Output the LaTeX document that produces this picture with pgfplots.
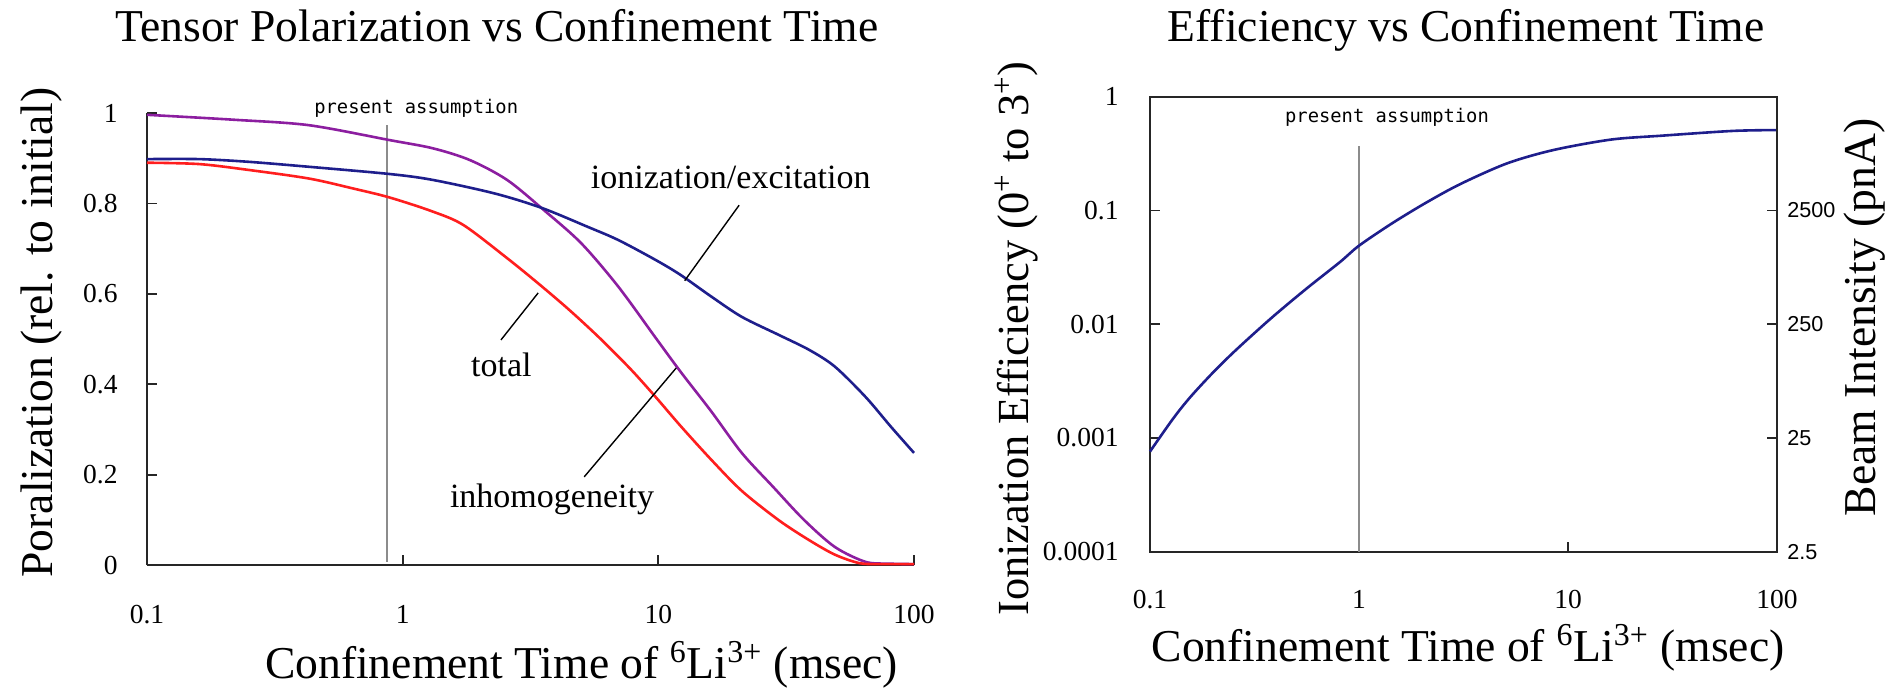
\documentclass[border=0pt]{standalone}
\usepackage{fontspec}
\setmainfont{Liberation Serif}
\newfontfamily\annofont{DejaVu Sans Mono}
\newfontfamily\numsans{Liberation Sans}
\usepackage{pgfplots}
\pgfplotsset{compat=1.18}

\definecolor{ionblue}{RGB}{30,30,140}
\definecolor{inhpurple}{RGB}{140,30,160}
\definecolor{totred}{RGB}{255,30,30}
\definecolor{refgray}{RGB}{140,140,140}

\newcommand{\labfont}{\fontsize{22.8}{26}\selectfont}
\newcommand{\tickfont}{\fontsize{13.75}{16}\selectfont}
\newcommand{\notefont}{\fontsize{17}{20}\selectfont}
\newcommand{\pafont}{\annofont\fontsize{9.4}{11}\selectfont}

\begin{document}
\begin{tikzpicture}
\useasboundingbox (0,0) rectangle (947.5pt,343.5pt);

% ---------------- tensor polarization ----------------
\begin{axis}[
  scale only axis, clip=false,
  at={(73.5pt,61pt)}, anchor=south west,
  width=383.5pt, height=226pt,
  xmode=log, xmin=0.1, xmax=100,
  ymin=0, ymax=1,
  axis lines=left,
  xminorticks=false, yminorticks=false,
  tick align=inside, major tick length=5pt,
  axis line style={-, black!85, line width=0.9pt},
  tick style={black!85, line width=0.9pt},
  xtick={0.1,1,10,100}, xticklabels={0.1,1,10,100},
  ytick={0,0.2,0.4,0.6,0.8,1}, yticklabels={0,0.2,0.4,0.6,0.8,1},
  xticklabel style={font=\tickfont, anchor=base, inner sep=0pt, yshift=-29pt},
  yticklabel style={font=\tickfont, anchor=east, inner sep=0pt, xshift=-14.5pt},
]
\addplot[refgray, line width=0.9pt] coordinates {(0.87,0.007) (0.87,0.973)};

% inhomogeneity
\addplot[inhpurple, line width=1.3pt, smooth, tension=0.5] coordinates {
  (0.1,0.996) (0.22,0.985) (0.43,0.973) (0.89,0.940) (1.31,0.922)
  (1.83,0.896) (2.56,0.852) (3.57,0.785) (4.99,0.712) (6.97,0.616)
  (9.75,0.503) (12.2,0.428) (16.1,0.340) (21.2,0.248) (28.1,0.173)
  (37.1,0.100) (49,0.040) (64.6,0.007) (80,0.003) (100,0.002)};
% ionization/excitation
\addplot[ionblue, line width=1.3pt, smooth, tension=0.5] coordinates {
  (0.1,0.898) (0.16,0.898) (0.25,0.892) (0.43,0.881) (0.89,0.865)
  (1.31,0.852) (2.29,0.822) (3.5,0.790) (5.3,0.748) (6.97,0.719)
  (9.75,0.675) (12.2,0.642) (16.1,0.594) (21.2,0.549) (29.6,0.509)
  (38.9,0.476) (49,0.439) (64.6,0.372) (81.2,0.306) (100,0.248)};
% total
\addplot[totred, line width=1.3pt, smooth, tension=0.5] coordinates {
  (0.1,0.890) (0.16,0.887) (0.25,0.874) (0.43,0.855) (0.64,0.833)
  (0.89,0.813) (1.31,0.782) (1.73,0.752) (2.56,0.679) (3.39,0.623)
  (4.47,0.565) (5.9,0.502) (7.8,0.433) (9.75,0.372) (12.2,0.308)
  (16.1,0.233) (21.2,0.164) (29.6,0.099) (38.9,0.055) (49,0.023)
  (61.3,0.004) (75,0.002) (100,0.002)};

\node[font=\pafont, anchor=base] at (rel axis cs:0.351,1.0) {present assumption};

\node[font=\notefont, anchor=base] at (rel axis cs:0.761,0.834) {ionization/excitation};
\draw[black, line width=0.7pt] (rel axis cs:0.772,0.796) -- (rel axis cs:0.701,0.629);
\node[font=\notefont, anchor=base] at (rel axis cs:0.462,0.416) {total};
\draw[black, line width=0.7pt] (rel axis cs:0.4615,0.498) -- (rel axis cs:0.510,0.602);
\node[font=\notefont, anchor=base] at (rel axis cs:0.528,0.128) {inhomogeneity};
\draw[black, line width=0.7pt] (rel axis cs:0.570,0.195) -- (rel axis cs:0.690,0.436);
\end{axis}

% ---------------- ionization efficiency ----------------
\begin{axis}[
  scale only axis, clip=false,
  at={(575pt,67.65pt)}, anchor=south west,
  width=313.5pt, height=227.5pt,
  xmode=log, xmin=0.1, xmax=100,
  ymode=log, ymin=1e-4, ymax=1,
  xminorticks=false, yminorticks=false,
  tick align=inside, major tick length=5pt,
  axis line style={-, black!85, line width=0.9pt},
  tick style={black!85, line width=0.9pt},
  xtick={0.1,1,10,100}, xticklabels={0.1,1,10,100},
  ytick={1e-4,1e-3,1e-2,1e-1,1}, yticklabels={0.0001,0.001,0.01,0.1,1},
  xtick pos=left, ytick pos=left,
  xticklabel style={font=\tickfont, anchor=base, inner sep=0pt, yshift=-28.3pt},
  yticklabel style={font=\tickfont, anchor=east, inner sep=0pt, xshift=-15.5pt},
]
\addplot[refgray, line width=0.9pt] coordinates {(1,1e-4) (1,0.369)};
\addplot[ionblue, line width=1.3pt, smooth, tension=0.5] coordinates {
  (0.1,7.6e-4) (0.129,1.48e-3) (0.156,2.29e-3) (0.201,3.79e-3)
  (0.259,5.98e-3) (0.379,0.01125) (0.556,0.0203) (0.814,0.0354)
  (1.0,0.049) (1.44,0.0771) (2.11,0.118) (3.08,0.172)
  (5.13,0.26) (8.53,0.34) (16.1,0.42) (28.5,0.455) (61.2,0.50)
  (100,0.509)};
\node[font=\pafont, anchor=base] at (rel axis cs:0.378,0.943) {present assumption};
\end{axis}

% beam intensity scale on the right
\begin{axis}[
  scale only axis, at={(575pt,67.65pt)}, anchor=south west,
  width=313.5pt, height=227.5pt,
  xmode=log, xmin=0.1, xmax=100, hide x axis,
  axis y line*=right,
  ymode=log, ymin=2.5, ymax=25000,
  ytick={2.5,25,250,2500}, yticklabels={2.5,25,250,2500},
  yminorticks=false, tick align=inside, major tick length=5pt,
  axis line style={-, black!85, line width=0.9pt},
  tick style={black!85, line width=0.9pt},
  yticklabel style={font=\numsans\fontsize{10.8}{12}\selectfont, anchor=west, inner sep=0pt, xshift=5pt},
]
\addplot[draw=none] coordinates {(1,2.5)};
\end{axis}

% titles and axis labels
\node[font=\labfont, anchor=base] at (248.5pt,322.6pt) {Tensor Polarization vs Confinement Time};
\node[font=\labfont, anchor=base] at (733pt,322.6pt) {Efficiency vs Confinement Time};
\node[font=\labfont, anchor=base] at (290.75pt,4.5pt) {Confinement Time of \textsuperscript{6}Li\textsuperscript{3+} (msec)};
\node[font=\labfont, anchor=base] at (734pt,13pt) {Confinement Time of \textsuperscript{6}Li\textsuperscript{3+} (msec)};
\node[font=\labfont, anchor=base, rotate=90] at (26pt,177.25pt) {Poralization (rel. to initial)};
\node[font=\fontsize{22.2}{26}\selectfont, anchor=base, rotate=90] at (514pt,174.25pt) {Ionization Efficiency (0\textsuperscript{+} to 3\textsuperscript{+})};
\node[font=\labfont, anchor=base, rotate=90] at (937.5pt,184.75pt) {Beam Intensity (pnA)};
\end{tikzpicture}
\end{document}
